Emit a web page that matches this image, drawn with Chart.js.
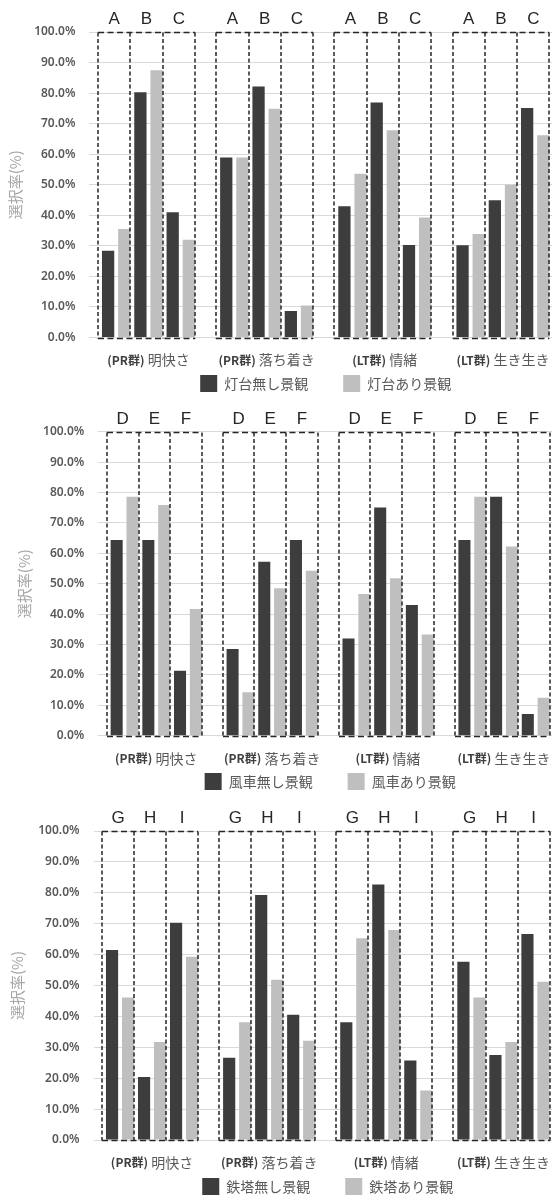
<!DOCTYPE html>
<html>
<head>
<meta charset="utf-8">
<script src="https://cdn.jsdelivr.net/npm/chart.js@4/dist/chart.umd.min.js"></script>
<style>
  html, body { margin: 0; padding: 0; background: #ffffff; overflow: hidden; width: 552px; height: 1195px; }
  body { position: relative; }
  canvas { position: absolute; left: 0; }
</style>
</head>
<body>
<canvas id="c1" width="562" height="402" style="top:0px"></canvas>
<canvas id="c2" width="562" height="400" style="top:400px"></canvas>
<canvas id="c3" width="562" height="405" style="top:800px"></canvas>
<script>
// ---------- data ----------
const categories = ['(PR群) 明快さ', '(PR群) 落ち着き', '(LT群) 情緒', '(LT群) 生き生き'];
const yAxisTitle = '選択率(%)';

// Panel 1: lighthouse  (values [item][category], %)
const lighthouseItems = ['A', 'B', 'C'];
const lighthouseSeries = ['灯台無し景観', '灯台あり景観'];
const lighthouseWithout = [
  [28.4, 58.9, 43.0, 30.2],
  [80.3, 82.2, 76.9, 44.9],
  [41.0, 8.7, 30.3, 75.1]
];
const lighthouseWith = [
  [35.5, 58.9, 53.6, 33.9],
  [87.5, 74.9, 67.8, 50.0],
  [32.0, 10.5, 39.3, 66.2]
];

// Panel 2: windmill
const windmillItems = ['D', 'E', 'F'];
const windmillSeries = ['風車無し景観', '風車あり景観'];
const windmillWithout = [
  [64.4, 28.5, 32.0, 64.4],
  [64.4, 57.2, 75.1, 78.6],
  [21.4, 64.4, 43.0, 7.1]
];
const windmillWith = [
  [78.6, 14.3, 46.6, 78.6],
  [75.9, 48.5, 51.8, 62.2],
  [41.7, 54.3, 33.3, 12.5]
];

// Panel 3: steel tower
const towerItems = ['G', 'H', 'I'];
const towerSeries = ['鉄塔無し景観', '鉄塔あり景観'];
const towerWithout = [
  [61.5, 26.6, 38.1, 57.7],
  [20.4, 79.3, 82.7, 27.5],
  [70.3, 40.5, 25.7, 66.7]
];
const towerWith = [
  [46.1, 38.1, 65.3, 46.1],
  [31.7, 51.9, 68.0, 31.7],
  [59.3, 32.1, 16.0, 51.2]
];

// ---------- styles ----------
const DARK = '#3d3d3d';
const LIGHT = '#bfbfbf';
const CJK = "'Noto Sans CJK JP', 'Noto Sans', sans-serif";
const BAR_PCT = 0.76;
const CAT_PCT = 0.82;

const boxPlugin = {
  id: 'itemBoxes',
  afterDatasetsDraw(chart, args, opts) {
    const { ctx, scales: { x, y }, chartArea } = chart;
    const items = opts.items || [];
    const top = Math.round(y.getPixelForValue(100)) + 0.5;
    const bottom = Math.round(y.getPixelForValue(0)) + 0.5;
    ctx.save();
    ctx.strokeStyle = '#262626';
    ctx.lineWidth = 1.5;
    for (let i = 0; i < chart.data.labels.length; i++) {
      const edges = [];
      items.forEach((it, j) => {
        const d = chart.getDatasetMeta(2 * j).data[i];
        const l = chart.getDatasetMeta(2 * j + 1).data[i];
        const slot = l.x - d.x;
        const bw = d.width;
        const left = d.x - bw / 2 - (slot - bw);
        const right = l.x + bw / 2;
        if (j === 0) edges.push(left);
        edges.push(right);
      });
      // vertical dashed lines
      ctx.setLineDash([4, 2.5]);
      edges.forEach((ex) => {
        const xx = Math.round(ex);
        ctx.beginPath();
        ctx.moveTo(xx, top);
        ctx.lineTo(xx, bottom);
        ctx.stroke();
      });
      // horizontal dashed lines
      ctx.setLineDash([6, 3.5]);
      [top, bottom].forEach((yy) => {
        ctx.beginPath();
        ctx.moveTo(Math.round(edges[0]), yy);
        ctx.lineTo(Math.round(edges[edges.length - 1]), yy);
        ctx.stroke();
      });
      // item letters
      ctx.setLineDash([]);
      ctx.fillStyle = '#262626';
      ctx.font = "17px 'Liberation Sans', Arial, sans-serif";
      ctx.textAlign = 'center';
      ctx.textBaseline = 'middle';
      items.forEach((it, j) => {
        const cx = (edges[j] + edges[j + 1]) / 2;
        ctx.fillText(it, cx, top - 13);
      });
    }

    // category labels under each group (bold group prefix + regular name)
    const labY = chartArea.bottom + 22.5;
    const boldFont = "bold 12px 'Noto Sans CJK JP', sans-serif";
    const normFont = "14px 'Noto Sans CJK JP', sans-serif";
    ctx.textBaseline = 'middle';
    ctx.textAlign = 'left';
    chart.data.labels.forEach((lab, i) => {
      const cx = x.getPixelForTick(i);
      const k = lab.indexOf(')') + 1;
      const pre = lab.slice(0, k);
      const rest = lab.slice(k);
      ctx.font = boldFont;
      const w1 = ctx.measureText(pre).width;
      ctx.font = normFont;
      const w2 = ctx.measureText(rest).width;
      let sx = cx - (w1 + w2) / 2;
      ctx.font = boldFont;
      ctx.fillStyle = '#404040';
      ctx.fillText(pre, sx, labY);
      ctx.font = normFont;
      ctx.fillStyle = '#595959';
      ctx.fillText(rest, sx + w1, labY);
    });
    ctx.restore();
  }
};

function buildPanel(id, items, series, without, withVals, lo) {
  const datasets = [];
  items.forEach((item, j) => {
    datasets.push({
      label: j === 0 ? series[0] : item + ' ' + series[0],
      data: without[j],
      backgroundColor: DARK,
      borderWidth: 0,
      barPercentage: BAR_PCT,
      categoryPercentage: CAT_PCT
    });
    datasets.push({
      label: j === 0 ? series[1] : item + ' ' + series[1],
      data: withVals[j],
      backgroundColor: LIGHT,
      borderWidth: 0,
      barPercentage: BAR_PCT,
      categoryPercentage: CAT_PCT
    });
  });

  return new Chart(document.getElementById(id), {
    type: 'bar',
    data: { labels: categories, datasets },
    options: {
      responsive: false,
      animation: false,
      devicePixelRatio: 1,
      layout: { padding: { left: lo.padLeft, top: lo.padTop, right: 0, bottom: 0 } },
      plugins: {
        legend: {
          position: 'bottom',
          fullSize: false,
          labels: {
            filter: (it) => it.datasetIndex < 2,
            boxWidth: 17,
            boxHeight: 17,
            padding: 35,
            color: '#595959',
            font: { family: CJK, size: 14 }
          }
        },
        tooltip: { enabled: false },
        itemBoxes: { items }
      },
      scales: {
        x: {
          grid: { display: false },
          border: { display: false },
          ticks: { display: false },
          afterFit: (s) => { s.height = lo.xHeight; }
        },
        y: {
          min: 0,
          max: 100,
          ticks: {
            stepSize: 10,
            padding: 14,
            color: '#595959',
            font: { family: "'Noto Sans', sans-serif", size: 12, weight: '600' },
            callback: (v) => Number(v).toFixed(1) + '%'
          },
          grid: { color: '#d9d9d9', lineWidth: 1, drawTicks: false },
          border: { display: false },
          title: {
            display: true,
            text: yAxisTitle,
            color: '#a6a6a6',
            font: { family: CJK, size: 15 },
            padding: { top: 0, bottom: 0 }
          },
          afterFit: (s) => { s.width = lo.yWidth; }
        }
      }
    },
    plugins: [boxPlugin]
  });
}

buildPanel('c1', lighthouseItems, lighthouseSeries, lighthouseWithout, lighthouseWith,
  { padLeft: 6, yWidth: 83.4, padTop: 32, xHeight: 2.5 });
buildPanel('c2', windmillItems, windmillSeries, windmillWithout, windmillWith,
  { padLeft: 15.5, yWidth: 82.8, padTop: 31.7, xHeight: 2.3 });
buildPanel('c3', towerItems, towerSeries, towerWithout, towerWith,
  { padLeft: 8.5, yWidth: 85, padTop: 31, xHeight: 3 });
</script>
</body>
</html>
